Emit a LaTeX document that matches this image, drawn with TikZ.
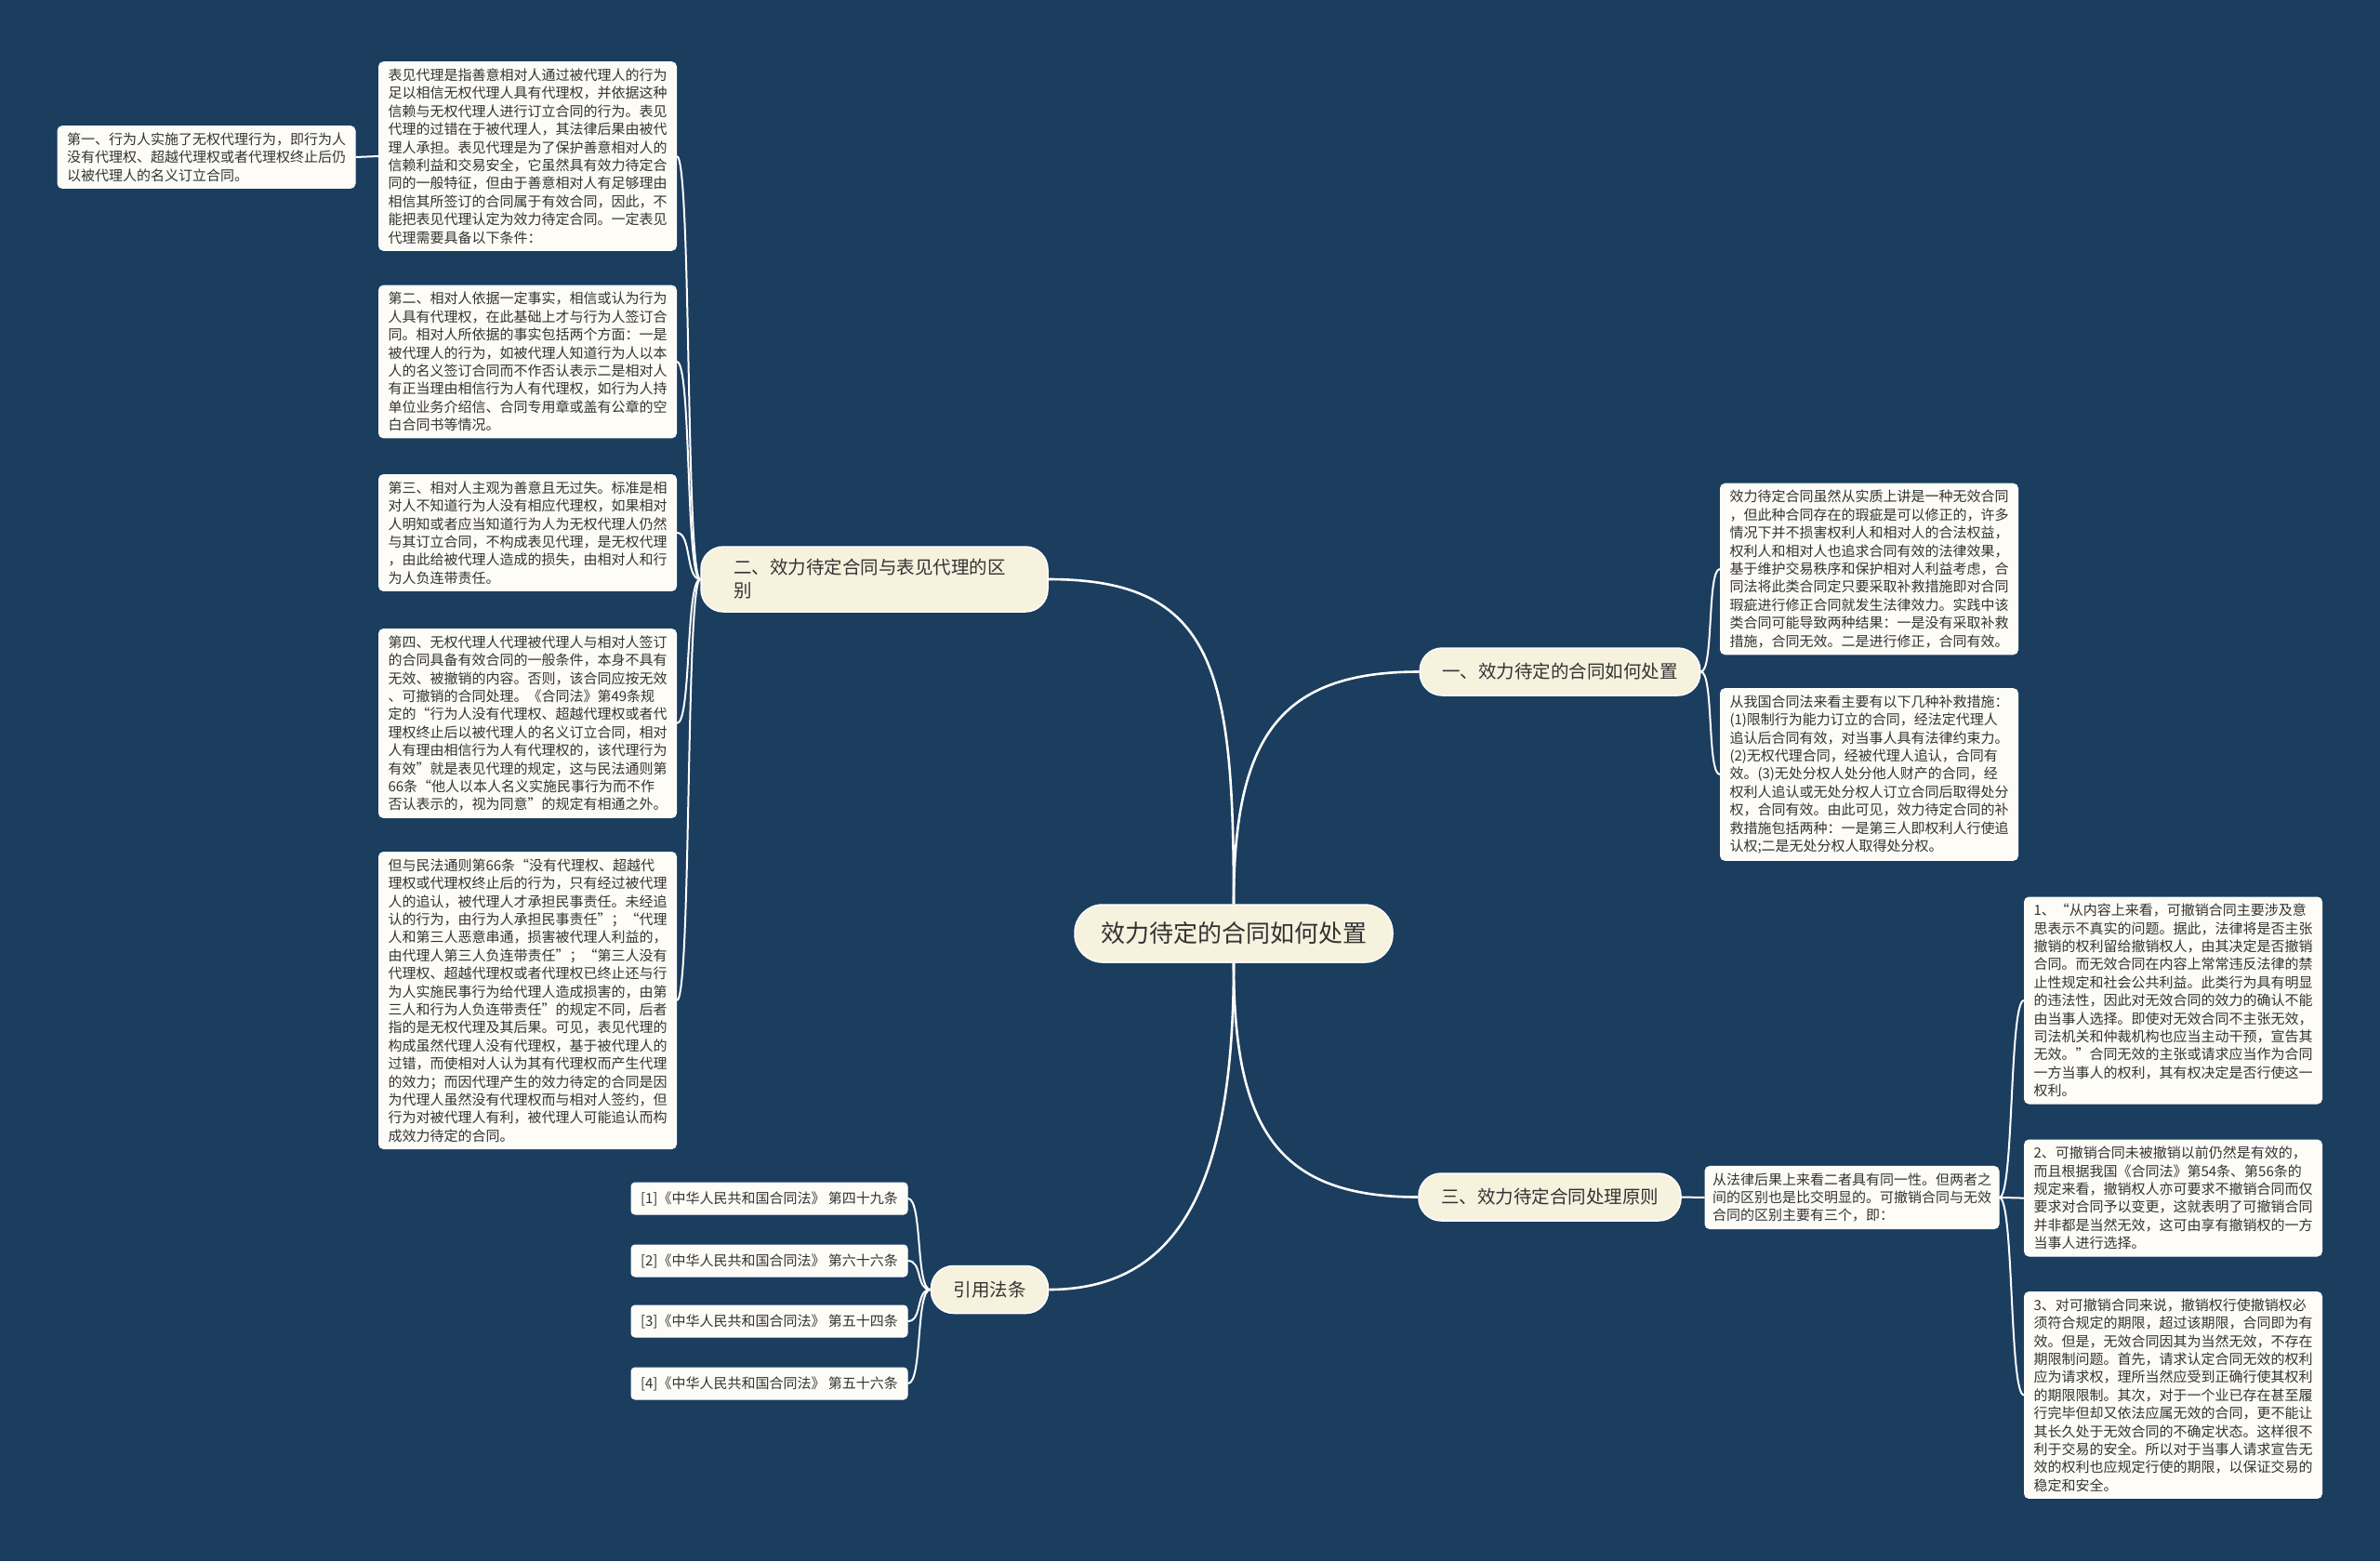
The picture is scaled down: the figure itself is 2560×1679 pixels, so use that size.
\documentclass[tikz,border=0pt]{standalone}
\usepackage{fontspec}
\setmainfont{Noto Sans CJK SC}
\definecolor{bg}{HTML}{1B3D5E}
\definecolor{leaffill}{HTML}{FDFCF6}
\definecolor{brfill}{HTML}{F7F2DE}
\definecolor{txt}{HTML}{333333}
\tikzset{
  leaf/.style={draw=white, line width=1pt, fill=leaffill, rounded corners=5pt,
    text width=300pt, align=left, inner xsep=10pt, inner ysep=7pt,
    font=\fontsize{15}{19.4}\selectfont, text=txt},
  branch/.style={draw=white, line width=1.5pt, fill=brfill, rounded corners=24pt,
    font=\fontsize{19.5}{25}\selectfont, text=txt, inner xsep=24pt, minimum height=51pt},
  rootnode/.style={draw=white, line width=1.5pt, fill=brfill, rounded corners=30pt,
    font=\fontsize{26}{30}\selectfont, text=txt, inner xsep=28pt, minimum height=62pt},
  citebox/.style={draw=white, line width=1pt, fill=leaffill, rounded corners=4pt,
    font=\fontsize{15}{18}\selectfont, text=txt, minimum width=297pt, minimum height=34pt, inner xsep=6pt},
  mainconn/.style={draw=white, line width=2.6pt},
  subconn/.style={draw=white, line width=2pt},
}
\begin{document}
\begin{tikzpicture}[x=1pt,y=-1pt]
\useasboundingbox (0,0) rectangle (2560,1679);
\fill[bg] (0,0) rectangle (2560,1679);

% root and branches
\node[rootnode] (C) at (1327,1004) {效力待定的合同如何处置};
\node[branch, text width=303pt, align=left, inner xsep=35pt, inner ysep=10pt, minimum height=70pt] (B2) at (940.5,623) {二、效力待定合同与表见代理的区\\别};
\node[branch] (B1) at (1678,722.5) {一、效力待定的合同如何处置};
\node[branch] (B3) at (1667,1287.5) {三、效力待定合同处理原则};
\node[branch] (B4) at (1064.5,1387) {引用法条};

% left leaves
\node[leaf] (L1) at (567.5,168) {表见代理是指善意相对人通过被代理人的行为\\
足以相信无权代理人具有代理权，并依据这种\\
信赖与无权代理人进行订立合同的行为。表见\\
代理的过错在于被代理人，其法律后果由被代\\
理人承担。表见代理是为了保护善意相对人的\\
信赖利益和交易安全，它虽然具有效力待定合\\
同的一般特征，但由于善意相对人有足够理由\\
相信其所签订的合同属于有效合同，因此，不\\
能把表见代理认定为效力待定合同。一定表见\\
代理需要具备以下条件：};

\node[leaf] (L0) at (222,169) {第一、行为人实施了无权代理行为，即行为人\\
没有代理权、超越代理权或者代理权终止后仍\\
以被代理人的名义订立合同。};

\node[leaf] (L2) at (567.5,389) {第二、相对人依据一定事实，相信或认为行为\\
人具有代理权，在此基础上才与行为人签订合\\
同。相对人所依据的事实包括两个方面：一是\\
被代理人的行为，如被代理人知道行为人以本\\
人的名义签订合同而不作否认表示二是相对人\\
有正当理由相信行为人有代理权，如行为人持\\
单位业务介绍信、合同专用章或盖有公章的空\\
白合同书等情况。};

\node[leaf] (L3) at (567.5,573) {第三、相对人主观为善意且无过失。标准是相\\
对人不知道行为人没有相应代理权，如果相对\\
人明知或者应当知道行为人为无权代理人仍然\\
与其订立合同，不构成表见代理，是无权代理\\
，由此给被代理人造成的损失，由相对人和行\\
为人负连带责任。};

\node[leaf] (L4) at (567.5,778) {第四、无权代理人代理被代理人与相对人签订\\
的合同具备有效合同的一般条件，本身不具有\\
无效、被撤销的内容。否则，该合同应按无效\\
、可撤销的合同处理。《合同法》第49条规\\
定的“行为人没有代理权、超越代理权或者代\\
理权终止后以被代理人的名义订立合同，相对\\
人有理由相信行为人有代理权的，该代理行为\\
有效”就是表见代理的规定，这与民法通则第\\
66条“他人以本人名义实施民事行为而不作\\
否认表示的，视为同意”的规定有相通之外。};

\node[leaf] (L5) at (567.5,1076) {但与民法通则第66条“没有代理权、超越代\\
理权或代理权终止后的行为，只有经过被代理\\
人的追认，被代理人才承担民事责任。未经追\\
认的行为，由行为人承担民事责任”；“代理\\
人和第三人恶意串通，损害被代理人利益的，\\
由代理人第三人负连带责任”；“第三人没有\\
代理权、超越代理权或者代理权已终止还与行\\
为人实施民事行为给代理人造成损害的，由第\\
三人和行为人负连带责任”的规定不同，后者\\
指的是无权代理及其后果。可见，表见代理的\\
构成虽然代理人没有代理权，基于被代理人的\\
过错，而使相对人认为其有代理权而产生代理\\
的效力；而因代理产生的效力待定的合同是因\\
为代理人虽然没有代理权而与相对人签约，但\\
行为对被代理人有利，被代理人可能追认而构\\
成效力待定的合同。};

% right leaves of branch 1
\node[leaf] (R1) at (2010.5,612) {效力待定合同虽然从实质上讲是一种无效合同\\
，但此种合同存在的瑕疵是可以修正的，许多\\
情况下并不损害权利人和相对人的合法权益，\\
权利人和相对人也追求合同有效的法律效果，\\
基于维护交易秩序和保护相对人利益考虑，合\\
同法将此类合同定只要采取补救措施即对合同\\
瑕疵进行修正合同就发生法律效力。实践中该\\
类合同可能导致两种结果：一是没有采取补救\\
措施，合同无效。二是进行修正，合同有效。};

\node[leaf] (R2) at (2010.5,833) {从我国合同法来看主要有以下几种补救措施：\\
(1)限制行为能力订立的合同，经法定代理人\\
追认后合同有效，对当事人具有法律约束力。\\
(2)无权代理合同，经被代理人追认，合同有\\
效。(3)无处分权人处分他人财产的合同，经\\
权利人追认或无处分权人订立合同后取得处分\\
权，合同有效。由此可见，效力待定合同的补\\
救措施包括两种：一是第三人即权利人行使追\\
认权;二是无处分权人取得处分权。};

% branch 3
\node[leaf, inner xsep=8pt] (M0) at (1992,1288) {从法律后果上来看二者具有同一性。但两者之\\
间的区别也是比交明显的。可撤销合同与无效\\
合同的区别主要有三个，即：};

\node[leaf] (M1) at (2337.5,1076) {1、“从内容上来看，可撤销合同主要涉及意\\
思表示不真实的问题。据此，法律将是否主张\\
撤销的权利留给撤销权人，由其决定是否撤销\\
合同。而无效合同在内容上常常违反法律的禁\\
止性规定和社会公共利益。此类行为具有明显\\
的违法性，因此对无效合同的效力的确认不能\\
由当事人选择。即使对无效合同不主张无效，\\
司法机关和仲裁机构也应当主动干预，宣告其\\
无效。”合同无效的主张或请求应当作为合同\\
一方当事人的权利，其有权决定是否行使这一\\
权利。};

\node[leaf] (M2) at (2337.5,1288.5) {2、可撤销合同未被撤销以前仍然是有效的，\\
而且根据我国《合同法》第54条、第56条的\\
规定来看，撤销权人亦可要求不撤销合同而仅\\
要求对合同予以变更，这就表明了可撤销合同\\
并非都是当然无效，这可由享有撤销权的一方\\
当事人进行选择。};

\node[leaf] (M3) at (2337.5,1500.5) {3、对可撤销合同来说，撤销权行使撤销权必\\
须符合规定的期限，超过该期限，合同即为有\\
效。但是，无效合同因其为当然无效，不存在\\
期限制问题。首先，请求认定合同无效的权利\\
应为请求权，理所当然应受到正确行使其权利\\
的期限限制。其次，对于一个业已存在甚至履\\
行完毕但却又依法应属无效的合同，更不能让\\
其长久处于无效合同的不确定状态。这样很不\\
利于交易的安全。所以对于当事人请求宣告无\\
效的权利也应规定行使的期限，以保证交易的\\
稳定和安全。};

% citations
\node[citebox] (K1) at (827.5,1289) {[1]《中华人民共和国合同法》 第四十九条};
\node[citebox] (K2) at (827.5,1356) {[2]《中华人民共和国合同法》 第六十六条};
\node[citebox] (K3) at (827.5,1421) {[3]《中华人民共和国合同法》 第五十四条};
\node[citebox] (K4) at (827.5,1488) {[4]《中华人民共和国合同法》 第五十六条};

% main connectors
\draw[mainconn] (C.north) .. controls +(0,-250) and +(180,0) .. (B2.east);
\draw[mainconn] (C.north) .. controls +(0,-180) and +(-150,0) .. (B1.west);
\draw[mainconn] (C.south) .. controls +(0,180) and +(-150,0) .. (B3.west);
\draw[mainconn] (C.south) .. controls +(0,220) and +(150,0) .. (B4.east);

% sub connectors
\foreach \n in {L1,L2,L3,L4,L5}
  \draw[subconn] (B2.west) .. controls +(-16,0) and +(16,0) .. (\n.east);
\draw[subconn] (L1.west) -- (L0.east);
\foreach \n in {R1,R2}
  \draw[subconn] (B1.west -| B1.east) .. controls +(14,0) and +(-14,0) .. (\n.west);
\draw[subconn] (B3.east) -- (M0.west);
\foreach \n in {M1,M2,M3}
  \draw[subconn] (M0.east) .. controls +(16,0) and +(-16,0) .. (\n.west);
\foreach \n in {K1,K2,K3,K4}
  \draw[subconn] (B4.west) .. controls +(-16,0) and +(16,0) .. (\n.east);
\end{tikzpicture}
\end{document}
